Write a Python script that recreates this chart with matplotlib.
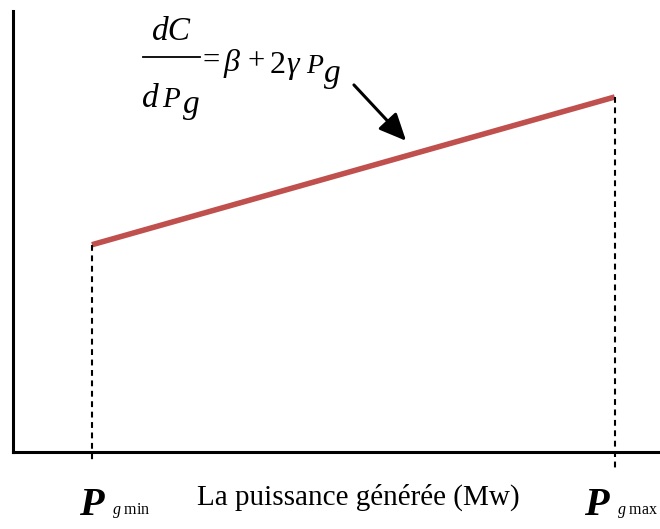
import matplotlib
matplotlib.use("Agg")
import matplotlib.pyplot as plt
from matplotlib.lines import Line2D

# marginal cost curve, axis units 0..1
pg = [0.122, 0.930]
cost = [0.470, 0.805]
pg_subs = [r"$g\ \mathrm{min}$", r"$g\ \mathrm{max}$"]
xlabel = "La puissance générée (Mw)"

W, H = 660, 529

plt.rcParams["font.family"] = ["Liberation Serif", "DejaVu Serif"]
plt.rcParams["mathtext.fontset"] = "custom"
plt.rcParams["mathtext.rm"] = "Liberation Serif"
plt.rcParams["mathtext.it"] = "Liberation Serif:italic"
plt.rcParams["mathtext.bf"] = "Liberation Serif:bold:italic"


def px(x, y):
    # pixel position (from top-left) -> figure fraction
    return x / W, 1 - y / H


def put(x, y, s, size, style="italic", **kw):
    fx, fy = px(x, y)
    fig.text(fx, fy, s, fontsize=size, style=style, va="baseline", **kw)


fig = plt.figure(figsize=(W / 100, H / 100), dpi=100)
ax = fig.add_axes([13 / W, 77 / H, 647 / W, 441 / H])
ax.set_xlim(0, 1)
ax.set_ylim(0, 1)
ax.spines["top"].set_visible(False)
ax.spines["right"].set_visible(False)
ax.spines["left"].set_linewidth(2.2)
ax.spines["bottom"].set_linewidth(2.2)
ax.set_xticks([])
ax.set_yticks([])

ax.plot(pg, cost, color="#C0504D", lw=4, solid_capstyle="butt")

# dashed drops to the axis
ax.plot([pg[0], pg[0]], [cost[0], -0.023], ls=(0, (2.8, 2.2)), color="black", lw=1.5, clip_on=False)
ax.plot([pg[1], pg[1]], [cost[1], -0.041], ls=(0, (2.8, 2.2)), color="black", lw=1.5, clip_on=False)

# bottom labels
for x0, sub in zip([79, 584], pg_subs):
    put(x0, 515, "P", 29, weight="bold")
    put(x0 + 33, 514, sub, 11.5, style="normal")
fx, fy = px(358, 505)
fig.text(fx, fy, xlabel, fontsize=21, ha="center", va="baseline")

# formula dC/dPg = beta + 2 gamma Pg
fx, fy = px(171, 40)
fig.text(fx, fy, "dC", fontsize=24, style="italic", ha="center", va="baseline")
x1, y1 = px(143, 57)
x2, _ = px(200, 57)
fig.add_artist(Line2D([x1, x2], [y1, y1], color="black", lw=1.3))
put(142, 107, "d", 24)
put(162, 107, "P", 21)
put(183, 113, "g", 24)
put(203, 69, "=", 22, style="normal")
put(224, 71, "β", 23)
put(248, 69, "+", 22, style="normal")
put(270, 73, "2", 23, style="normal")
put(286, 73, "γ", 23)
put(306, 73, "P", 20)
put(324, 82, "g", 24)

ax.annotate("", xy=(0.6105, 0.701), xytext=(0.524, 0.837),
            arrowprops=dict(arrowstyle="-|>,head_length=0.55,head_width=0.25", color="black",
                            lw=2.2, mutation_scale=30))

fig.savefig("out.png", dpi=100)
